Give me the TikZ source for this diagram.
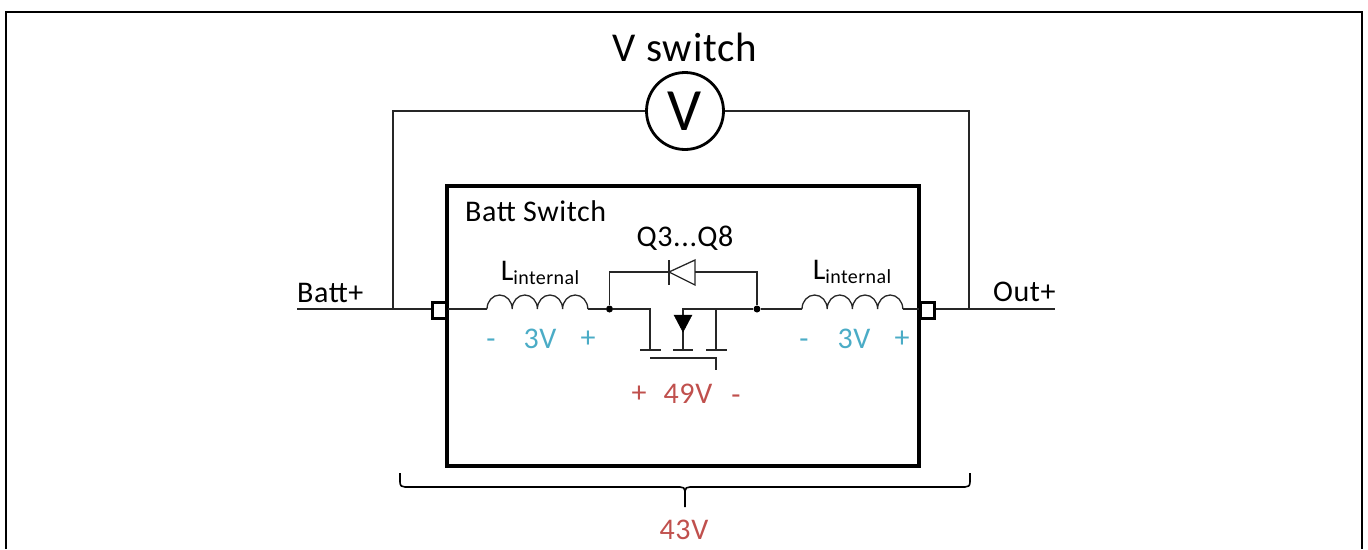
\documentclass[tikz,border=0pt]{standalone}
\usepackage{fontspec}
\setmainfont{Carlito}[LetterSpace=2]
\definecolor{rd}{HTML}{C0504D}
\definecolor{bl}{HTML}{4BACC6}
\tikzset{x=1pt,y=-1pt,
 wire/.style={line width=1.3pt,draw=black!85},
 thick box/.style={line width=3.2pt,draw=black},
 port/.style={draw=black,line width=3pt,fill=white,minimum width=14pt,minimum height=16pt,inner sep=0pt},
 lbl/.style={inner sep=0pt,font=\fontsize{30}{32}\selectfont},
 blbl/.style={lbl,text=bl},
 rlbl/.style={lbl,text=rd},
 dot/.style={circle,fill=black,inner sep=0pt,minimum size=7pt},
 meter/.style={circle,draw=black,line width=2.8pt,minimum size=77pt,inner sep=0pt,fill=white,font=\fontsize{60}{62}\selectfont}
}
\newcommand{\coilbumps}[1]{%
 \draw[wire] (#1,309) arc[start angle=180,end angle=0,x radius=12.6pt,y radius=14pt]
 arc[start angle=180,end angle=0,x radius=12.6pt,y radius=14pt]
 arc[start angle=180,end angle=0,x radius=12.6pt,y radius=14pt]
 arc[start angle=180,end angle=0,x radius=12.6pt,y radius=14pt];}
\newcommand{\Lint}{L\raisebox{-4pt}{\fontsize{20}{22}\selectfont internal}}
\begin{document}
\begin{tikzpicture}
\useasboundingbox (0,0) rectangle (1368,549);
\draw[line width=2pt] (6,549) -- (6,12) -- (1362,12) -- (1362,549);
% box
\node[thick box,minimum width=472pt,minimum height=280pt,inner sep=0pt] (sw) at (683,326) {};
% ports
\node[port] (pl) at (439,310.5) {};
\node[port] (pr) at (927,310.5) {};
% terminal coordinates
\coordinate (battend) at (297,309);
\coordinate (outend) at (1055,309);
\coordinate (lt) at (393,309);
\coordinate (rt) at (969,309);
\node[meter] (vm) at (685,111) {V};
\node[lbl,font=\fontsize{41}{44}\selectfont] (vs) at (685,47) {V switch};
\draw[wire] (battend) -- (battend -| pl.west);
\draw[wire] (outend -| pr.east) -- (outend);
\draw[wire] (lt) |- (vm.west);
\draw[wire] (rt) |- (vm.east);
% coils
\coordinate (c1a) at (487,309);
\coordinate (c1b) at (588,309);
\coordinate (c2a) at (802,309);
\coordinate (c2b) at (903,309);
\coilbumps{487}
\coilbumps{802}
\node[dot] (n1) at (609.5,309) {};
\node[dot] (n2) at (757,309) {};
\draw[wire] (c1a -| pl.east) -- (c1a);
\draw[wire] (c1b) -- (n1);
\draw[wire] (n2) -- (c2a);
\draw[wire] (c2b) -- (c2b -| pr.west);
% diode
\coordinate (dk) at (669,272);
\coordinate (da) at (695,272);
\draw[wire] (n1) |- (dk);
\draw[wire] (n2) |- (da);
\draw[wire] (669,260) -- (669,285);
\draw[wire,line join=miter] (669,272) -- (695,260) -- (695,285) -- cycle;
% mosfet
\draw[wire] (n1) -| (650,350);
\draw[wire] (640,350) -- (661,350);
\draw[wire] (673,350) -- (693,350);
\draw[wire] (706,350) -- (727,350);
\draw[wire] (n2) -- (683,309) -- (683,350);
\draw[wire] (716,309) -- (716,350);
\draw[fill=black,draw=black,line width=.5pt] (674,315) -- (692,315) -- (683,332) -- cycle;
\draw[wire] (650,358) -- (716,358) -- (716,370);
% labels
\node[lbl,anchor=west] (bs) at (465,211) {Batt Switch};
\node[lbl] (q) at (685,238) {Q3...Q8};
\node[lbl] (l1) at (540,273) {\Lint};
\node[lbl] (l2) at (852,272) {\Lint};
\node[lbl] at (297,293) [anchor=west] {Batt+};
\node[lbl] at (993,292) [anchor=west] {Out+};
\node[blbl] at (491,344) {-};
\node[blbl] at (540,339) {3V};
\node[blbl] at (588,339) {+};
\node[blbl] at (804,344) {-};
\node[blbl] at (854,339) {3V};
\node[blbl] at (902,339) {+};
\node[rlbl] at (639,394) {+};
\node[rlbl] at (688,394) {49V};
\node[rlbl] at (736,400) {-};
\node[rlbl] (v43) at (684,530) {43V};
% brace
\coordinate (bm) at (685,507);
\draw[line width=1.6pt] (400,473) -- (400,482) .. controls (400,486) and (402,487) .. (405,487) -- (680,487) .. controls (683,487) and (685,488) .. (685,491) -- (bm);
\draw[line width=1.6pt] (970,473) -- (970,482) .. controls (970,486) and (968,487) .. (965,487) -- (690,487) .. controls (687,487) and (685,488) .. (685,491);
\end{tikzpicture}
\end{document}
